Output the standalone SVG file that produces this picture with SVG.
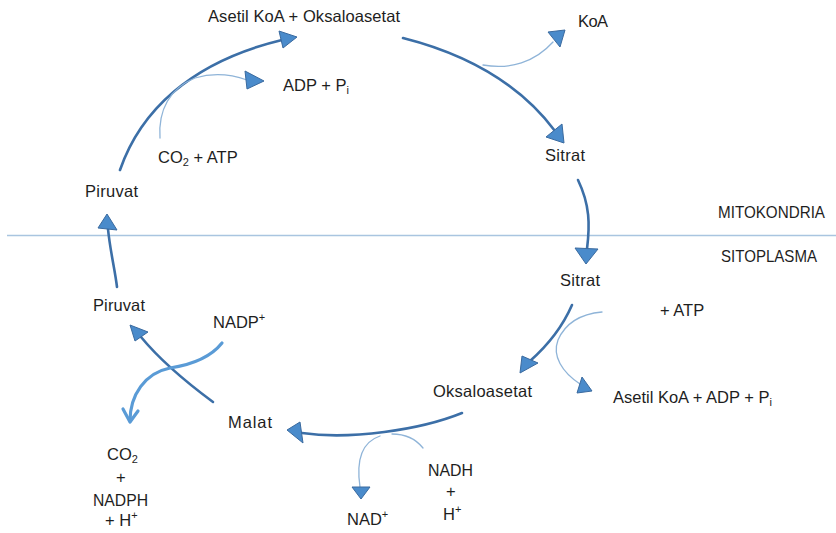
<svg xmlns="http://www.w3.org/2000/svg" width="836" height="533" viewBox="0 0 836 533">
  <style>
    text { font-family: "Liberation Sans", Arial, sans-serif; font-size: 16.5px; fill: #1e1e1e; }
    .sub { font-size: 11px; }
    .main { fill: none; stroke: #3c6fa7; stroke-width: 2.6; stroke-linecap: round; }
    .side { fill: none; stroke: #8fb4d8; stroke-width: 1.3; stroke-linecap: round; }
    .nadp { fill: none; stroke: #5a9bd6; stroke-width: 3.2; stroke-linecap: round; stroke-linejoin: round; }
    .head { fill: #4a8bcb; stroke: #3a6a9f; stroke-width: 1; stroke-linejoin: round; }
    .membrane { stroke: #a9c5e0; stroke-width: 1.6; }
  </style>

  <!-- membrane boundary -->
  <line class="membrane" x1="7" y1="235.5" x2="836" y2="235.5"/>
  <text x="718" y="218" textLength="107" lengthAdjust="spacingAndGlyphs">MITOKONDRIA</text>
  <text x="721" y="262" textLength="96" lengthAdjust="spacingAndGlyphs">SITOPLASMA</text>

  <!-- connectors -->
  <g id="connectors">
    <!-- Piruvat -> Asetil KoA + Oksaloasetat -->
    <path class="main" d="M120,170 C140,112 190,62 282,40"/>
    <polygon class="head" points="279,31 297,37 283,48"/>
    <!-- CO2 + ATP -> ADP + Pi -->
    <path class="side" d="M160,138 C158,110 170,88 195,78 C215,72 233,75 247,80"/>
    <polygon class="head" points="245,71 264,81 247,89"/>

    <!-- Asetil KoA + Oksaloasetat -> Sitrat -->
    <path class="main" d="M403,38 C470,55 522,87 555,131"/>
    <polygon class="head" points="546,137 562,124 564,143"/>
    <!-- release of KoA -->
    <path class="side" d="M483,65 C510,70 535,62 553,42"/>
    <polygon class="head" points="548,32 565,30 560,47"/>

    <!-- Sitrat (mitokondria) -> Sitrat (sitoplasma) -->
    <path class="main" d="M578,180 C590,205 590,225 587,249"/>
    <polygon class="head" points="575,248 598,249 586,264"/>

    <!-- Sitrat -> Oksaloasetat -->
    <path class="main" d="M572,305 C562,328 547,346 530,361"/>
    <polygon class="head" points="522,356 538,363 520,373"/>
    <!-- + ATP -> Asetil KoA + ADP + Pi -->
    <path class="side" d="M602,312 C580,314 565,324 558,340 C552,356 562,372 580,384"/>
    <polygon class="head" points="582,377 592,391 577,393"/>

    <!-- Oksaloasetat -> Malat -->
    <path class="main" d="M462,413 C420,430 350,440 302,433"/>
    <polygon class="head" points="300,422 287,430 303,443"/>
    <!-- NADH + H+ -> NAD+ -->
    <path class="side" d="M423,448 C415,438 405,434 392,434"/>
    <path class="side" d="M380,436 C362,442 356,460 360,487"/>
    <polygon class="head" points="352,487 370,487 361,499"/>

    <!-- Malat -> Piruvat -->
    <path class="main" d="M213,402 C190,385 160,360 141,337"/>
    <polygon class="head" points="148,332 130,325 135,341"/>
    <!-- NADP+ -> CO2 + NADPH + H+ -->
    <path class="nadp" d="M222,343 C210,358 190,365 170,368 C145,373 130,395 130,421"/>
    <polyline class="nadp" points="123,409 130,422 138,411"/>

    <!-- Piruvat (sitoplasma) -> Piruvat (mitokondria) -->
    <path class="main" d="M117,287 C115,270 110,250 108,229"/>
    <polygon class="head" points="98,228 107,214 117,230"/>
  </g>

  <!-- nodes -->
  <g id="asetilkoa-oksaloasetat"><text x="208" y="22" textLength="192">Asetil KoA + Oksaloasetat</text></g>
  <g id="koa"><text x="578" y="27" textLength="30">KoA</text></g>
  <g id="adp-pi"><text x="283" y="91">ADP + P<tspan class="sub" dy="3">i</tspan></text></g>
  <g id="co2-atp"><text x="158" y="163">CO<tspan class="sub" dy="3">2</tspan><tspan dy="-3"> + ATP</tspan></text></g>
  <g id="piruvat-mito"><text x="85" y="197" textLength="53">Piruvat</text></g>
  <g id="sitrat-mito"><text x="545" y="161" textLength="40">Sitrat</text></g>
  <g id="sitrat-cyto"><text x="560" y="286" textLength="40">Sitrat</text></g>
  <g id="atp"><text x="660" y="316">+ ATP</text></g>
  <g id="asetilkoa-adp-pi"><text x="613" y="403">Asetil KoA + ADP + P<tspan class="sub" dy="3">i</tspan></text></g>
  <g id="oksaloasetat"><text x="433" y="397" textLength="99">Oksaloasetat</text></g>
  <g id="piruvat-cyto"><text x="93" y="311" textLength="52">Piruvat</text></g>
  <g id="nadp"><text x="213" y="328">NADP<tspan class="sub" dy="-7">+</tspan></text></g>
  <g id="malat"><text x="228" y="428" textLength="44">Malat</text></g>
  <g id="co2-nadph">
    <text x="107" y="460">CO<tspan class="sub" dy="3">2</tspan></text>
    <text x="116" y="483">+</text>
    <text x="93" y="506" textLength="55" lengthAdjust="spacingAndGlyphs">NADPH</text>
    <text x="105" y="526">+ H<tspan class="sub" dy="-7">+</tspan></text>
  </g>
  <g id="nadh">
    <text x="428" y="476" textLength="45" lengthAdjust="spacingAndGlyphs">NADH</text>
    <text x="446" y="497">+</text>
    <text x="443" y="520">H<tspan class="sub" dy="-7">+</tspan></text>
  </g>
  <g id="nad"><text x="347" y="525">NAD<tspan class="sub" dy="-7">+</tspan></text></g>
</svg>
